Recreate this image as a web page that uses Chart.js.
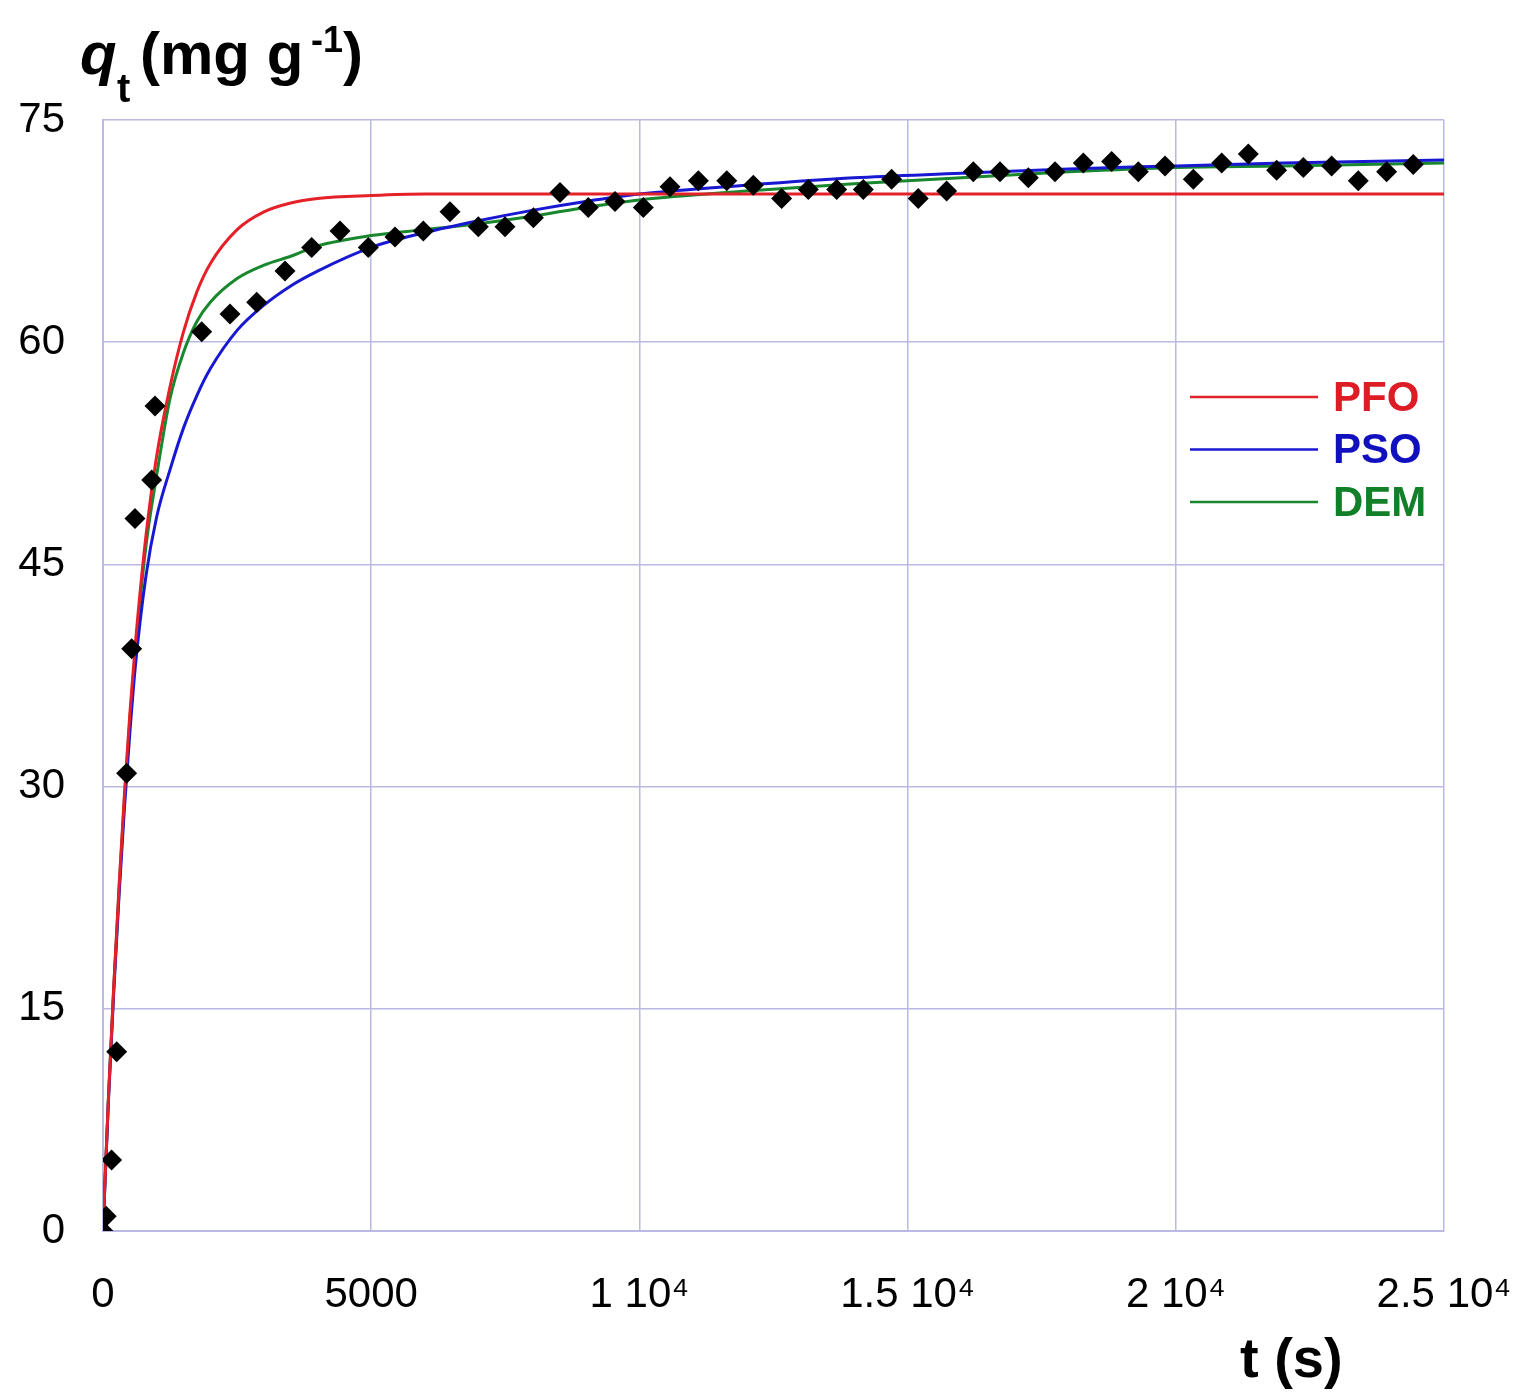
<!DOCTYPE html>
<html lang="en">
<head>
    <meta charset="UTF-8">
    <title>qt vs t</title>
    <script src="https://cdn.jsdelivr.net/npm/chart.js"></script>
    <style>
        body { margin: 0; background: #fff; }
    </style>
</head>
<body>
    <canvas id="myChart" width="1522" height="1393"></canvas>
<script>
    // measured points (t in s, q in mg/g)
    const expT = [0, 60, 160, 255, 441, 535, 596, 908, 970, 1840, 2368, 2865, 3393, 3890, 4418, 4946, 5444, 5972, 6469, 6997,
        7494, 8023, 8520, 9047, 9545, 10073, 10570, 11100, 11628, 12124, 12652, 13149, 13678, 14174, 14702, 15199, 15728,
        16225, 16723, 17251, 17748, 18276, 18804, 19301, 19799, 20327, 20855, 21352, 21880, 22377, 22905, 23402, 23930, 24427];
    const expQ = [0, 1.0, 4.8, 12.1, 30.9, 39.3, 48.1, 50.7, 55.7, 60.7, 61.9, 62.7, 64.8, 66.4, 67.5, 66.4, 67.1, 67.5, 68.8, 67.8,
        67.8, 68.4, 70.1, 69.1, 69.5, 69.1, 70.5, 70.9, 70.9, 70.6, 69.7, 70.3, 70.3, 70.3, 71.0, 69.7, 70.2,
        71.5, 71.5, 71.1, 71.5, 72.1, 72.2, 71.5, 71.9, 71.0, 72.1, 72.7, 71.6, 71.8, 71.9, 70.9, 71.5, 72.0];

    // model curves
    const curveT = [0, 100, 200, 300, 400, 500, 600, 800, 1000, 1250, 1500, 1750, 2000, 2500, 3000, 3500, 4000, 5000, 6000, 7000,
        8000, 9000, 10000, 12000, 14000, 16000, 18000, 20000, 22000, 25000];
    const pfoQ = [0, 8.9, 16.5, 23.3, 29.5, 34.9, 39.5, 46.9, 52.3, 57.0, 60.7, 63.4, 65.3, 67.6, 68.8, 69.4, 69.7, 69.9, 70.0, 70.0,
        70.0, 70.0, 70.0, 70.0, 70.0, 70.0, 70.0, 70.0, 70.0, 70.0];
    const psoQ = [0, 8.7, 16.1, 22.7, 28.6, 33.6, 38.0, 44.2, 48.2, 51.4, 54.2, 56.4, 58.2, 60.8, 62.5, 63.8, 64.8, 66.4, 67.4, 68.2,
        68.9, 69.5, 70.0, 70.6, 71.1, 71.4, 71.7, 71.9, 72.1, 72.3];
    const demQ = [0, 8.8, 16.4, 23.1, 29.2, 34.5, 39.0, 46.2, 51.0, 56.2, 59.3, 61.4, 62.7, 64.3, 65.2, 65.8, 66.5, 67.2, 67.6, 68.0,
        68.5, 69.1, 69.6, 70.2, 70.7, 71.1, 71.5, 71.8, 71.9, 72.1];

    const xTicks = [0, 5000, 10000, 15000, 20000, 25000];
    const xTickLabels = ['0', '5000', '1 10\u2074', '1.5 10\u2074', '2 10\u2074', '2.5 10\u2074'];

    const FONT = '"Liberation Sans", Arial, sans-serif';
    const gridColor = 'rgb(185,185,228)';

    function toXY(xs, ys) {
        return xs.map((x, i) => ({ x: x, y: ys[i] }));
    }

    function curve(label, ys, color) {
        return {
            label: label,
            data: toXY(curveT, ys),
            showLine: true,
            borderColor: color,
            backgroundColor: color,
            borderWidth: 3,
            pointRadius: 0,
            cubicInterpolationMode: 'monotone',
            order: 2
        };
    }

    // axis titles + legend inside the plot
    const textPlugin = {
        id: 'texts',
        afterDraw(chart) {
            const ctx = chart.ctx;
            ctx.save();
            ctx.fillStyle = '#000';
            ctx.textBaseline = 'alphabetic';
            ctx.textAlign = 'left';
            ctx.font = 'italic bold 60px ' + FONT;
            ctx.fillText('q', 80, 74);
            ctx.font = 'bold 40px ' + FONT;
            ctx.fillText('t', 117, 102);
            ctx.font = 'bold 60px ' + FONT;
            ctx.fillText('(mg g', 140, 74);
            ctx.font = 'bold 36px ' + FONT;
            ctx.fillText('-1', 311, 52);
            ctx.font = 'bold 60px ' + FONT;
            ctx.fillText(')', 343, 74);

            ctx.font = 'bold 56px ' + FONT;
            ctx.fillText('t (s)', 1240, 1377);

            // legend
            const items = chart.data.datasets.filter(d => d.showLine);
            ctx.font = 'bold 42px ' + FONT;
            ctx.textBaseline = 'middle';
            items.forEach((d, i) => {
                const y = 397 + i * 52.5;
                ctx.strokeStyle = d.borderColor;
                ctx.lineWidth = 2.5;
                ctx.beginPath();
                ctx.moveTo(1190, y);
                ctx.lineTo(1318, y);
                ctx.stroke();
                ctx.fillStyle = d.legendText;
                ctx.fillText(d.label, 1333, y + 2);
            });
            ctx.restore();
        }
    };

    const pfo = curve('PFO', pfoQ, 'rgb(228,32,40)');
    pfo.legendText = 'rgb(222,28,38)';
    const pso = curve('PSO', psoQ, 'rgb(24,24,210)');
    pso.legendText = 'rgb(16,16,190)';
    const dem = curve('DEM', demQ, 'rgb(24,135,45)');
    dem.legendText = 'rgb(18,128,40)';

    const data = {
        datasets: [
            pfo, pso, dem,
            {
                label: 'exp',
                data: toXY(expT, expQ),
                showLine: false,
                pointStyle: 'rectRot',
                pointRadius: 10.5,
                pointHoverRadius: 10.5,
                backgroundColor: '#000',
                borderColor: '#000',
                borderWidth: 0,
                order: 1
            }
        ]
    };

    const config = {
        type: 'scatter',
        data: data,
        options: {
            responsive: false,
            animation: false,
            layout: { padding: { top: 120, right: 78, left: 0, bottom: 0 } },
            plugins: {
                legend: { display: false },
                tooltip: { enabled: false }
            },
            scales: {
                x: {
                    type: 'linear',
                    min: 0,
                    max: 25000,
                    afterFit(scale) {
                        scale.height = 162;
                        scale.paddingLeft = 0;
                        scale.paddingRight = 0;
                    },
                    afterBuildTicks(scale) {
                        scale.ticks = xTicks.map(v => ({ value: v }));
                    },
                    ticks: {
                        padding: 39,
                        maxRotation: 0,
                        autoSkip: false,
                        color: '#000',
                        font: { family: FONT, size: 42 },
                        callback: v => {
                            const i = xTicks.indexOf(v);
                            return i >= 0 ? xTickLabels[i] : '';
                        }
                    },
                    grid: { color: gridColor, lineWidth: 1.5, drawTicks: false },
                    border: { color: gridColor, width: 2 }
                },
                y: {
                    min: 0,
                    max: 75,
                    afterFit(scale) {
                        scale.width = 103;
                        scale.paddingTop = 0;
                        scale.paddingBottom = 0;
                    },
                    ticks: {
                        stepSize: 15,
                        padding: 38,
                        color: '#000',
                        font: { family: FONT, size: 42 }
                    },
                    grid: { color: gridColor, lineWidth: 1.5, drawTicks: false },
                    border: { color: gridColor, width: 2 }
                }
            }
        },
        plugins: [textPlugin]
    };

    const myChart = new Chart(document.querySelector('#myChart'), config);
</script>
</body>
</html>
